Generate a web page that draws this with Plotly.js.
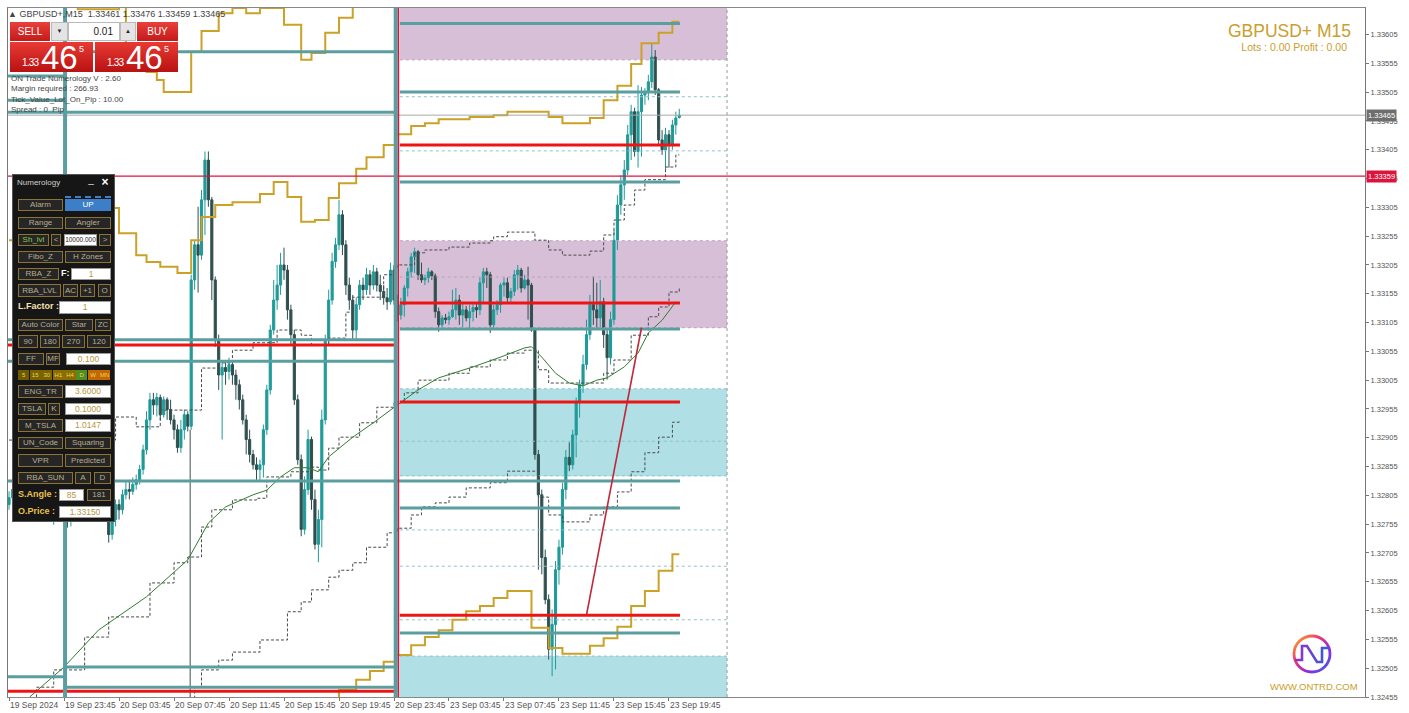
<!DOCTYPE html>
<html><head><meta charset="utf-8">
<script src="https://cdn.plot.ly/plotly-3.0.1.min.js"></script>
<style>
body{margin:0;width:1409px;height:713px;overflow:hidden;background:#fff;font-family:"Liberation Sans",Arial,sans-serif;}
#chart{position:absolute;left:0;top:0;width:1409px;height:713px;}
.ov{position:absolute;white-space:nowrap;}
.red{position:absolute;background:linear-gradient(#e8403a,#c41a1a);color:#fff;text-align:center;}
.pbox{position:absolute;width:83px;height:30px;background:linear-gradient(#e83a34,#b81212);color:#fff;}
.pbox span{position:absolute;line-height:1;}
.pbox .s{left:12px;top:16px;font-size:10px;letter-spacing:-0.8px;}
.pbox .b{left:31px;top:-1px;font-size:33px;}
.pbox .u{left:69px;top:3px;font-size:9px;}
.info{position:absolute;left:11px;font-size:8px;color:#444;line-height:10px;}
#numPanel{position:absolute;left:12px;top:174px;width:103px;height:348px;background:#161616;border:1px solid #555;box-sizing:border-box;}
#numPanel div{position:absolute;box-sizing:border-box;text-align:center;white-space:nowrap;overflow:hidden;}
.btn{background:#262626;border:1px solid #8a7334;color:#b9ad8f;font-size:8px;}
.inp{background:#fff;border:1px solid #999;color:#b8963c;font-size:8.5px;}
.lbl{color:#e8c050;font-size:9px;font-weight:bold;text-align:left!important;}
.plain{background:transparent;}
</style></head><body>
<div id="chart"></div>
<div class="ov" style="left:8px;top:9px;font-size:9px;color:#444;">▲ GBPUSD+,M15&nbsp; 1.33461 1.33476 1.33459 1.33465</div>
<div class="red" style="left:10px;top:22px;width:40px;height:19px;line-height:19px;font-size:10px;">SELL</div>
<div class="ov" style="left:51px;top:22px;width:17px;height:19px;background:#e4e4e4;border:1px solid #bbb;box-sizing:border-box;font-size:6px;text-align:center;line-height:17px;color:#222;">▼</div>
<div class="ov" style="left:68px;top:22px;width:52px;height:19px;background:#fff;border:1px solid #bbb;box-sizing:border-box;font-size:10px;text-align:right;padding-right:6px;line-height:17px;color:#222;">0.01</div>
<div class="ov" style="left:120px;top:22px;width:16px;height:19px;background:#e4e4e4;border:1px solid #bbb;box-sizing:border-box;font-size:6px;text-align:center;line-height:17px;color:#222;">▲</div>
<div class="red" style="left:137px;top:22px;width:41px;height:19px;line-height:19px;font-size:10px;">BUY</div>
<div class="pbox" style="left:10px;top:42px;"><span class="s">1.33</span><span class="b">46</span><span class="u">5</span></div>
<div class="pbox" style="left:95px;top:42px;"><span class="s">1.33</span><span class="b">46</span><span class="u">5</span></div>
<div class="info" style="top:74px;">ON Trade Numerology V : 2.60</div>
<div class="info" style="top:84px;">Margin required : 266.93</div>
<div class="info" style="top:95px;">Tick_Value_Lot_On_Pip : 10.00</div>
<div class="info" style="top:105px;">Spread : 0&nbsp; Pip</div>
<div id="numPanel"></div>
<div class="ov" style="right:58px;top:21px;font-size:17.5px;color:#c9a02c;">GBPUSD+ M15</div>
<div class="ov" style="right:62px;top:41px;font-size:10.5px;color:#c9a02c;">Lots : 0.00 Profit : 0.00</div>
<svg class="ov" style="left:1290px;top:632px;" width="44" height="44" viewBox="-22 -22 44 44">
<defs><linearGradient id="rg" x1="0" y1="0" x2="1" y2="1"><stop offset="0" stop-color="#f7b21c"/><stop offset="0.35" stop-color="#ef3b6e"/><stop offset="0.7" stop-color="#8a2be2"/><stop offset="1" stop-color="#2f6fe0"/></linearGradient>
<linearGradient id="ng" x1="0" y1="0" x2="1" y2="0"><stop offset="0" stop-color="#9b2fc9"/><stop offset="1" stop-color="#2f5fd8"/></linearGradient></defs>
<circle r="18" fill="none" stroke="url(#rg)" stroke-width="2.8"/>
<polyline points="-17,6 -10,6 -10,-8 -5,-8 5,8 10,8 10,-6 17,-6" fill="none" stroke="url(#ng)" stroke-width="2.6"/>
</svg>
<div class="ov" style="left:1270px;top:681px;font-size:9.5px;color:#c9a02c;">WWW.ONTRD.COM</div>
<script>
// ---- Candles (GBPUSD+ M15, bar 0 = 19 Sep 19:45) ----
const barOpen=[1.32789,1.32801,1.32815,1.32806,1.32789,1.32777,1.32784,1.32801,1.32812,1.32824,1.32815,1.32798,1.32780,1.32767,1.32777,1.32793,1.32789,1.32772,1.32760,1.32773,1.32787,1.32798,1.32806,1.32795,1.32780,1.32791,1.32801,1.32798,1.32784,1.32780,1.32737,1.32763,1.32789,1.32780,1.32806,1.32815,1.32812,1.32824,1.32832,1.32850,1.32884,1.32936,1.32971,1.32962,1.32975,1.32945,1.32971,1.32954,1.32936,1.32919,1.32888,1.32919,1.32945,1.32925,1.33179,1.33240,1.33222,1.33318,1.33387,1.33318,1.33179,1.33075,1.33014,1.33027,1.33020,1.33032,1.33014,1.32997,1.32971,1.32936,1.32902,1.32876,1.32858,1.32850,1.32858,1.32919,1.32988,1.33092,1.33144,1.33170,1.33205,1.33196,1.33127,1.33084,1.32971,1.32867,1.32746,1.32815,1.32902,1.32798,1.32720,1.32763,1.32936,1.33075,1.33144,1.33211,1.33240,1.33292,1.33240,1.33170,1.33144,1.33092,1.33136,1.33170,1.33162,1.33188,1.33170,1.33193,1.33170,1.33159,1.33148,1.33141,1.33196,1.33144,1.33118,1.33136,1.33165,1.33193,1.33219,1.33228,1.33188,1.33179,1.33183,1.33193,1.33186,1.33124,1.33101,1.33113,1.33110,1.33115,1.33127,1.33144,1.33118,1.33127,1.33113,1.33124,1.33131,1.33127,1.33174,1.33193,1.33188,1.33101,1.33127,1.33136,1.33170,1.33174,1.33148,1.33159,1.33188,1.33196,1.33165,1.33179,1.33170,1.33092,1.32876,1.32806,1.32697,1.32624,1.32538,1.32581,1.32676,1.32715,1.32815,1.32871,1.32858,1.32910,1.32967,1.32997,1.33032,1.33084,1.33136,1.33127,1.33113,1.33141,1.33084,1.33044,1.33110,1.33248,1.33309,1.33344,1.33370,1.33431,1.33471,1.33402,1.33471,1.33500,1.33506,1.33523,1.33566,1.33509,1.33422,1.33405,1.33431,1.33413,1.33448,1.33461];
const barHigh=[1.32812,1.32824,1.32829,1.32819,1.32798,1.32789,1.32806,1.32819,1.32832,1.32836,1.32824,1.32806,1.32795,1.32784,1.32798,1.32806,1.32801,1.32789,1.32780,1.32798,1.32804,1.32815,1.32819,1.32806,1.32798,1.32808,1.32815,1.32804,1.32795,1.32789,1.32772,1.32798,1.32798,1.32815,1.32829,1.32832,1.32836,1.32841,1.32858,1.32893,1.32951,1.32983,1.32983,1.32983,1.32980,1.32977,1.32975,1.32971,1.32945,1.32928,1.32936,1.32954,1.32951,1.33188,1.33248,1.33306,1.33335,1.33402,1.33402,1.33323,1.33185,1.33084,1.33040,1.33037,1.33044,1.33040,1.33023,1.33006,1.32980,1.32945,1.32919,1.32884,1.32871,1.32867,1.32928,1.32997,1.33101,1.33179,1.33205,1.33226,1.33235,1.33205,1.33136,1.33092,1.32980,1.32876,1.32838,1.32919,1.32907,1.32815,1.32780,1.32954,1.33084,1.33162,1.33226,1.33252,1.33318,1.33300,1.33248,1.33183,1.33153,1.33148,1.33179,1.33183,1.33200,1.33196,1.33205,1.33200,1.33188,1.33170,1.33165,1.33209,1.33205,1.33153,1.33148,1.33170,1.33200,1.33226,1.33235,1.33231,1.33209,1.33188,1.33200,1.33196,1.33190,1.33131,1.33118,1.33120,1.33124,1.33162,1.33165,1.33153,1.33141,1.33134,1.33136,1.33137,1.33139,1.33183,1.33200,1.33200,1.33193,1.33136,1.33144,1.33174,1.33183,1.33183,1.33165,1.33196,1.33205,1.33200,1.33188,1.33202,1.33174,1.33096,1.32884,1.32815,1.32711,1.32633,1.32607,1.32691,1.32728,1.32827,1.32884,1.32897,1.32919,1.32975,1.33006,1.33049,1.33110,1.33153,1.33185,1.33174,1.33179,1.33148,1.33092,1.33124,1.33266,1.33326,1.33361,1.33387,1.33448,1.33483,1.33478,1.33517,1.33514,1.33512,1.33535,1.33590,1.33578,1.33512,1.33439,1.33443,1.33439,1.33457,1.33471,1.33476];
const barLow=[1.32780,1.32793,1.32798,1.32780,1.32767,1.32763,1.32777,1.32795,1.32801,1.32806,1.32789,1.32772,1.32760,1.32754,1.32770,1.32780,1.32763,1.32749,1.32751,1.32767,1.32777,1.32784,1.32789,1.32772,1.32763,1.32780,1.32787,1.32772,1.32767,1.32723,1.32728,1.32751,1.32763,1.32772,1.32798,1.32798,1.32806,1.32815,1.32824,1.32841,1.32876,1.32919,1.32945,1.32942,1.32936,1.32940,1.32936,1.32928,1.32902,1.32879,1.32879,1.32902,1.32916,1.32919,1.33162,1.33157,1.33214,1.33257,1.33306,1.33144,1.33063,1.32988,1.32902,1.32997,1.33006,1.32997,1.32971,1.32954,1.32928,1.32876,1.32862,1.32850,1.32832,1.32829,1.32836,1.32910,1.32980,1.33084,1.33127,1.33153,1.33179,1.33110,1.33066,1.32962,1.32858,1.32734,1.32737,1.32806,1.32780,1.32711,1.32689,1.32715,1.32928,1.33066,1.33136,1.33200,1.33231,1.33222,1.33153,1.33127,1.33075,1.33075,1.33127,1.33144,1.33153,1.33153,1.33162,1.33159,1.33144,1.33136,1.33127,1.33136,1.33136,1.33107,1.33110,1.33115,1.33150,1.33183,1.33191,1.33179,1.33174,1.33170,1.33174,1.33179,1.33113,1.33089,1.33096,1.33103,1.33101,1.33113,1.33110,1.33101,1.33096,1.33107,1.33092,1.33107,1.33113,1.33118,1.33139,1.33165,1.33087,1.33092,1.33118,1.33122,1.33150,1.33141,1.33141,1.33151,1.33162,1.33157,1.33162,1.33110,1.33089,1.32867,1.32676,1.32668,1.32616,1.32520,1.32491,1.32503,1.32650,1.32702,1.32798,1.32847,1.32850,1.32871,1.32940,1.32983,1.33023,1.33075,1.33101,1.33092,1.33092,1.33061,1.33006,1.33032,1.33101,1.33231,1.33292,1.33318,1.33361,1.33387,1.33393,1.33374,1.33393,1.33483,1.33491,1.33512,1.33500,1.33413,1.33396,1.33370,1.33374,1.33405,1.33431,1.33459];
const barClose=[1.32801,1.32815,1.32806,1.32789,1.32777,1.32784,1.32801,1.32812,1.32824,1.32815,1.32798,1.32780,1.32767,1.32777,1.32793,1.32789,1.32772,1.32760,1.32773,1.32787,1.32798,1.32806,1.32795,1.32780,1.32791,1.32801,1.32798,1.32784,1.32780,1.32737,1.32763,1.32789,1.32780,1.32806,1.32815,1.32812,1.32824,1.32832,1.32850,1.32884,1.32936,1.32971,1.32962,1.32975,1.32945,1.32971,1.32954,1.32936,1.32919,1.32888,1.32919,1.32945,1.32925,1.33179,1.33240,1.33222,1.33318,1.33387,1.33318,1.33179,1.33075,1.33014,1.33027,1.33020,1.33032,1.33014,1.32997,1.32971,1.32936,1.32902,1.32876,1.32858,1.32850,1.32858,1.32919,1.32988,1.33092,1.33144,1.33170,1.33205,1.33196,1.33127,1.33084,1.32971,1.32867,1.32746,1.32815,1.32902,1.32798,1.32720,1.32763,1.32936,1.33075,1.33144,1.33211,1.33240,1.33292,1.33240,1.33170,1.33144,1.33092,1.33136,1.33170,1.33162,1.33188,1.33170,1.33193,1.33170,1.33159,1.33148,1.33141,1.33196,1.33144,1.33118,1.33136,1.33165,1.33193,1.33219,1.33228,1.33188,1.33179,1.33183,1.33193,1.33186,1.33124,1.33101,1.33113,1.33110,1.33115,1.33127,1.33144,1.33118,1.33127,1.33113,1.33124,1.33131,1.33127,1.33174,1.33193,1.33188,1.33101,1.33127,1.33136,1.33170,1.33174,1.33148,1.33159,1.33188,1.33196,1.33165,1.33179,1.33170,1.33092,1.32876,1.32806,1.32697,1.32624,1.32538,1.32581,1.32676,1.32715,1.32815,1.32871,1.32858,1.32910,1.32967,1.32997,1.33032,1.33084,1.33136,1.33127,1.33113,1.33141,1.33084,1.33044,1.33110,1.33248,1.33309,1.33344,1.33370,1.33431,1.33471,1.33402,1.33471,1.33500,1.33506,1.33523,1.33566,1.33509,1.33422,1.33405,1.33431,1.33413,1.33448,1.33460,1.33465];

const tickIndex=[0,16,32,48,64,80,96,112,128,144,160,176,192];
const tickText=['19 Sep 2024','19 Sep 23:45','20 Sep 03:45','20 Sep 07:45','20 Sep 11:45','20 Sep 15:45','20 Sep 19:45','20 Sep 23:45','23 Sep 03:45','23 Sep 07:45','23 Sep 11:45','23 Sep 15:45','23 Sep 19:45'];

// ---- Horizontal levels (bar index from/to, price) ----
const tealFrom=[113.7,113.7,113.7,113.7,-0.3,113.7,113.7,16.3,-0.3,-0.3,-0.3,16.3,-0.3,-0.3,-0.3,16.3];
const tealTo=[195.2,195.2,195.2,195.2,195.2,195.2,195.2,112.3,112.3,112.3,112.3,112.3,16.3,16.3,16.3,112.3];
const tealPrice=[1.33624,1.33505,1.33349,1.33094,1.32830,1.32783,1.32566,1.33575,1.33470,1.33075,1.33038,1.32507,1.32490,1.33533,1.33491,1.32472];
const redFrom=[113.7,113.7,113.7,113.7,-0.3,-0.3];
const redTo=[195.2,195.2,195.2,195.2,112.3,112.3];
const redPrice=[1.33413,1.33139,1.32967,1.32597,1.33066,1.32465];
const zoneDashPrice=[1.33497,1.33403,1.32899,1.32745,1.32682,1.32589,1.32990,1.32839,1.32526];
const purpleDashPrice=[1.33561,1.33247,1.33184,1.33096];
const alertPrice=1.33359, bidPrice=1.33465;
// ---- Zones ----
const zoneFrom=[113.7,113.7,113.7,113.7], zoneTo=[208.9,208.9,208.9,208.9];
const zoneLow=[1.33561,1.33096,1.32838,1.32420], zoneHigh=[1.33700,1.33247,1.32990,1.32526];
const zoneKind=['p','p','b','b'];
const vTealBars=[16.3,112.5], vRedBars=[113.3], vDashBars=[208.9];
const sepBar=52.7, sepTop=1.32919;
// ---- Step lines ----
const goldAx=[0,12,20,32,34,40,43,45,53,56,61,65,69,73,80,85,88,92,96,100,112];
const goldAy=[1.33655,1.33656,1.33649,1.33656,1.33587,1.33540,1.33526,1.33505,1.33575,1.33611,1.33642,1.33651,1.33642,1.33651,1.33622,1.33561,1.33573,1.33608,1.33634,1.33662,1.33662];
const goldBx=[0,9,21,30,32,37,40,44,49,53,56,60,65,73,77,81,85,89,93,96,101,104,109,112];
const goldBy=[1.33248,1.33292,1.33309,1.33304,1.33260,1.33222,1.33210,1.33202,1.33191,1.33248,1.33288,1.33309,1.33314,1.33328,1.33349,1.33323,1.33280,1.33283,1.33321,1.33347,1.33372,1.33392,1.33413,1.33413];
const goldCx=[90,96,101,105,109,112];
const goldCy=[1.32450,1.32467,1.32485,1.32500,1.32516,1.32516];
const goldDx=[113,117,121,125,134,141,145,157,161,169,173,177,181,184,189,193,195];
const goldDy=[1.33432,1.33446,1.33451,1.33458,1.33462,1.33465,1.33471,1.33462,1.33451,1.33460,1.33491,1.33516,1.33554,1.33590,1.33608,1.33627,1.33627];
const goldEx=[113,117,121,125,129,133,137,141,145,152,157,161,169,173,177,181,185,189,193,195];
const goldEy=[1.32528,1.32545,1.32559,1.32571,1.32589,1.32604,1.32613,1.32627,1.32639,1.32575,1.32540,1.32530,1.32544,1.32557,1.32577,1.32613,1.32639,1.32674,1.32703,1.32703];
const dashAx=[0,31,37,44,56,61,65,71,78,85,88,93,98,100,109,112,113,118,121,128,134,140,141,145,153,157,161,169,173,176,179,182,185,191,194,195];
const dashAy=[1.32901,1.32941,1.32924,1.32953,1.33026,1.33035,1.33057,1.33070,1.33092,1.33083,1.33066,1.33078,1.33123,1.33149,1.33188,1.33200,1.33205,1.33226,1.33231,1.33236,1.33243,1.33247,1.33254,1.33262,1.33248,1.33231,1.33222,1.33229,1.33257,1.33283,1.33309,1.33335,1.33353,1.33375,1.33396,1.33396];
const dashBx=[0,8,13,22,29,41,48,52,56,59,65,72,75,82,88,90,93,96,102,107,112,115,119,128,134,140,145,150,154,157,165,173,176,181,186,189,192,195];
const dashBy=[1.32450,1.32472,1.32502,1.32559,1.32594,1.32653,1.32688,1.32698,1.32750,1.32780,1.32797,1.32800,1.32837,1.32846,1.32854,1.32849,1.32887,1.32906,1.32931,1.32958,1.32967,1.32983,1.33005,1.33017,1.33028,1.33040,1.33052,1.33057,1.33023,1.33000,1.33000,1.33017,1.33040,1.33083,1.33115,1.33132,1.33158,1.33165];
const dashCx=[50,54,56,61,65,73,81,85,88,93,96,100,104,110,113,117,120,124,128,133,140,145,154,157,161,169,173,177,181,185,189,193,195];
const dashCy=[1.32450,1.32472,1.32502,1.32519,1.32533,1.32554,1.32603,1.32620,1.32641,1.32663,1.32675,1.32688,1.32715,1.32740,1.32748,1.32771,1.32785,1.32792,1.32802,1.32818,1.32827,1.32847,1.32802,1.32771,1.32759,1.32771,1.32785,1.32811,1.32846,1.32879,1.32906,1.32932,1.32934];
const maX=[6,16,26,40,52,58,63,71,75,79,83,87,90,93,100,106,113,119,125,135,143,150,152,155,159,163,167,171,174,179,183,186,190,194];
const maY=[1.32455,1.32507,1.32571,1.32629,1.32693,1.32757,1.32785,1.32806,1.32814,1.32837,1.32853,1.32853,1.32846,1.32872,1.32906,1.32931,1.32962,1.32988,1.33009,1.33028,1.33045,1.33061,1.33063,1.33045,1.33017,1.33000,1.32995,1.33005,1.33009,1.33028,1.33052,1.33087,1.33109,1.33141];
const trendX=[168,184], trendY=[1.32597,1.33096];

const barIndex=barClose.map((_,i)=>i);
const X0=-0.3, X1=394.5, Y0=1.32455, Y1=1.33651;

function levels(from,to,price,color,width,dash){
  const x=[],y=[];
  price.forEach((p,k)=>{x.push(from[k],to[k],null);y.push(p,p,null);});
  return {type:'scatter',mode:'lines',x,y,line:{color,width,dash:dash||'solid'},hoverinfo:'skip'};
}
function step(x,y,color,width,dash){
  return {type:'scatter',mode:'lines',x,y,line:{color,width,dash:dash||'solid',shape:'hv'},hoverinfo:'skip'};
}
const zFrom=a=>a.map(()=>zoneFrom[0]), zTo=a=>a.map(()=>zoneTo[0]);
const traces=[
  levels(zFrom(zoneDashPrice),zTo(zoneDashPrice),zoneDashPrice,'#8cc3cc',1,'3px,3px'),
  levels(zFrom(purpleDashPrice),zTo(purpleDashPrice),purpleDashPrice,'#b9a2ba',1,'3px,3px'),
  {type:'scatter',mode:'lines',x:[sepBar,sepBar],y:[Y0,sepTop],line:{color:'#3e4e4e',width:1},hoverinfo:'skip'},
  step(dashBx,dashBy,'#4a4a4a',1,'3px,2px'),
  step(dashCx,dashCy,'#4a4a4a',1,'3px,2px'),
  step(dashAx,dashAy,'#4a4a4a',1,'3px,2px'),
  {type:'scatter',mode:'lines',x:maX,y:maY,line:{color:'#2e7d2e',width:1},hoverinfo:'skip'},
  {type:'candlestick',x:barIndex,open:barOpen,high:barHigh,low:barLow,close:barClose,
   increasing:{line:{color:'#1f9a98',width:1},fillcolor:'#1f9a98'},
   decreasing:{line:{color:'#2f4f4f',width:1},fillcolor:'#2f4f4f'},hoverinfo:'skip'},
  step(goldAx,goldAy,'#c9a227',2),
  step(goldBx,goldBy,'#c9a227',2),
  step(goldCx,goldCy,'#c9a227',2),
  step(goldDx,goldDy,'#c9a227',2),
  step(goldEx,goldEy,'#c9a227',2),
  levels(tealFrom,tealTo,tealPrice,'#5b9ea0',3),
  levels(redFrom,redTo,redPrice,'#ee1414',3),
  levels([X0],[X1],[alertPrice],'#dc143c',1.2),
  levels([X0],[X1],[bidPrice],'#a8a8a8',1),
  {type:'scatter',mode:'lines',x:trendX,y:trendY,line:{color:'#c0283a',width:1.6},hoverinfo:'skip'}
];
const shapes=[];
zoneLow.forEach((lo,k)=>shapes.push({type:'rect',layer:'below',xref:'x',yref:'y',x0:zoneFrom[k],x1:zoneTo[k],y0:lo,y1:zoneHigh[k],line:{width:0},fillcolor:zoneKind[k]==='p'?'rgb(216,191,216)':'rgb(176,224,230)'}));
vDashBars.forEach(v=>shapes.push({type:'line',xref:'x',yref:'paper',x0:v,x1:v,y0:0,y1:1,line:{color:'#9a9a9a',width:1,dash:'3px,3px'}}));
vTealBars.forEach(v=>shapes.push({type:'line',xref:'x',yref:'paper',x0:v,x1:v,y0:0,y1:1,line:{color:'#5b9ea0',width:4}}));
vRedBars.forEach(v=>shapes.push({type:'line',xref:'x',yref:'paper',x0:v,x1:v,y0:0,y1:1,line:{color:'#dc143c',width:1.5}}));

const lblFont={family:'Liberation Sans',size:7.5,color:'#fff'};
const layout={
  width:1409,height:713,margin:{l:8,r:44,t:8,b:16},boxgap:0.12,
  paper_bgcolor:'#fff',plot_bgcolor:'#fff',showlegend:false,hovermode:false,
  xaxis:{range:[X0,X1],tickmode:'array',tickvals:tickIndex,ticktext:tickText,ticks:'outside',ticklen:3,tickcolor:'#777',tickangle:0,
    ticklabelposition:'outside right',showgrid:false,zeroline:false,showline:true,linecolor:'#888',linewidth:1,mirror:true,
    rangeslider:{visible:false},tickfont:{family:'Liberation Sans',size:8.5,color:'#555'}},
  yaxis:{side:'right',range:[Y0,Y1],tick0:1.32455,dtick:0.0005,tickformat:'.5f',ticks:'outside',ticklen:3,tickcolor:'#777',
    showgrid:false,zeroline:false,showline:true,linecolor:'#777',linewidth:1,mirror:true,
    tickfont:{family:'Liberation Sans',size:7.5,color:'#555'}},
  shapes,
  annotations:[
    {xref:'paper',x:1,xanchor:'left',xshift:1,yref:'y',y:bidPrice,text:bidPrice.toFixed(5),showarrow:false,bgcolor:'#6e6e6e',font:lblFont,borderpad:1},
    {xref:'paper',x:1,xanchor:'left',xshift:1,yref:'y',y:alertPrice,text:alertPrice.toFixed(5),showarrow:false,bgcolor:'#dc143c',font:lblFont,borderpad:1}
  ]
};
Plotly.newPlot('chart',traces,layout,{displayModeBar:false,staticPlot:true});

// ---- Numerology panel (UI overlay) ----
const P=document.getElementById('numPanel');
function el(t,x,y,w,h,cls,st){const d=document.createElement('div');d.className=cls||'btn';
  d.style.cssText=`left:${x}px;top:${y}px;width:${w}px;height:${h}px;line-height:${h-2}px;`+(st||'');d.textContent=t;P.appendChild(d);}
el('Numerology',4,3,60,12,'plain','color:#cfcfcf;font-size:8px;text-align:left;');
el('_',72,0,12,12,'plain','color:#ddd;font-size:10px;');
el('×',84,1,16,14,'plain','color:#fff;font-size:12px;font-weight:bold;line-height:13px;');
el('',52,21,46,3,'plain','border-top:2px dashed #3d7fc8;');
const btns=[['Alarm',5,24,45,12],['UP',52,24,46,12,'btn','background:#3c7fc8;color:#fff;border-color:#3c7fc8;'],
['Range',5,42,45,12],['Angler',52,42,46,12],
['Sh_lvl',5,59,31,12,'btn','color:#8cc850;'],['<',38,59,10,12],['10000.000',51,59,33,12,'inp','font-size:6.5px;color:#222;'],['>',86,59,12,12],
['Fibo_Z',5,76,45,12],['H Zones',52,76,46,12],
['RBA_Z',5,93,41,12],['F:',48,93,10,12,'lbl','color:#fff;'],['1',58,93,40,12,'inp'],
['RBA_LVL',5,109,43,13],['AC',50,109,15,13],['+1',67,109,15,13],['O',85,109,13,13],
['L.Factor :',5,126,42,13,'lbl','color:#f4e2b0;'],['1',46,126,52,13,'inp'],
['Auto Color',5,144,45,12],['Star',52,144,28,12],['ZC',82,144,16,12],
['90',5,160,20,13],['180',27,160,20,13],['270',49,160,23,13],['120',74,160,24,13],
['FF',5,178,26,12],['MF',33,178,14,12],['0.100',53,178,45,12,'inp'],
['ENG_TR',5,210,45,13],['3.6000',52,210,46,13,'inp'],
['TSLA',5,228,28,12],['K',35,228,12,12],['0.1000',52,228,46,12,'inp'],
['M_TSLA',5,244,45,13],['1.0147',52,244,46,13,'inp'],
['UN_Code',5,262,45,12],['Squaring',52,262,46,12],
['VPR',5,279,45,13],['Predicted',52,279,46,13],
['RBA_SUN',5,297,55,12],['A',62,297,16,12],['D',81,297,17,12],
['S.Angle :',5,314,42,12,'lbl'],['85',46,314,25,12,'inp'],['181',74,314,24,12],
['O.Price :',5,331,42,12,'lbl'],['1.33150',46,331,52,12,'inp']];
btns.forEach(b=>el(b[0],b[1],b[2],b[3],b[4],b[5],b[6]));
const tf=['5','15','30','H1','H4','D','W','MN'];
const tfc=['#6e5a00','#7a6400','#7a6400','#8a6e00','#8a6e00','#4f8f1f','#c26a00','#c26a00'];
tf.forEach((t,k)=>el(t,5+k*11.6,195,11.2,10,'plain','background:'+tfc[k]+';color:#f0d060;font-size:6px;line-height:10px;'));
</script>
</body></html>
